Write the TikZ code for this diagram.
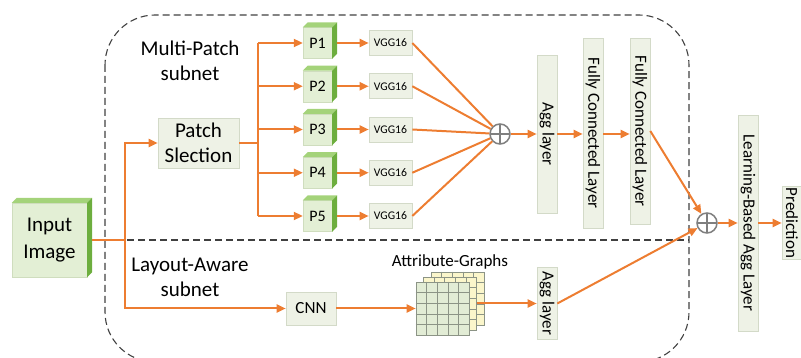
\documentclass[tikz,border=0pt]{standalone}
\usepackage{fontspec}
\setmainfont{Carlito}
\usetikzlibrary{arrows.meta,positioning,calc}
\definecolor{accentorange}{HTML}{ED7D31}
\definecolor{boxfill}{HTML}{EEF2E6}
\definecolor{boxline}{HTML}{D3DAC8}
\definecolor{cubefront}{HTML}{E3EFD5}
\definecolor{cubeedge}{HTML}{CFDDBE}
\definecolor{cubetop}{HTML}{A4D37A}
\definecolor{cubeside}{HTML}{6DAE3E}
\definecolor{sumgray}{HTML}{7F7F7F}
\definecolor{gridgreen}{HTML}{E2ECD5}
\definecolor{gridyellow}{HTML}{FBF6CB}
\definecolor{gridink}{HTML}{8C9486}
\definecolor{dashgray}{HTML}{404040}
\tikzset{
  every picture/.style={font=\fontsize{17}{20}\selectfont},
  flow/.style={draw=accentorange,line width=2pt},
  flowarrow/.style={flow,-{Triangle[length=9pt,width=8pt]}},
  layerbox/.style={draw=boxline,fill=boxfill,line width=0.6pt,inner sep=0pt},
  vbox/.style={layerbox,rotate=-90,minimum height=20pt},
  cubeface/.style={fill=cubefront,draw=cubeedge,line width=0.4pt,inner sep=0pt},
  sumnode/.style={circle,draw=sumgray,line width=1.5pt,fill=white,minimum size=20pt,inner sep=0pt,
    path picture={\draw[sumgray,line width=1.5pt] (path picture bounding box.north) -- (path picture bounding box.south)
      (path picture bounding box.west) -- (path picture bounding box.east);}},
  gridlayer/.style={draw=gridink,line width=0.6pt,minimum size=53pt,inner sep=0pt},
  gridstroke/.style={draw=gridink,line width=0.5pt},
  partition/.style={draw=dashgray,line width=1.1pt,dash pattern=on 7pt off 4pt},
  bigtext/.style={font=\fontsize{21}{25}\selectfont},
  ptext/.style={font=\fontsize{16}{19}\selectfont},
  smalltext/.style={font=\fontsize{11.7}{14}\selectfont},
}
\newcommand{\cubefaces}[2]{%
  \fill[cubetop] (#1.north west) -- ++(#2,-#2) -- ($(#1.north east)+(#2,-#2)$) -- (#1.north east) -- cycle;
  \fill[cubeside] (#1.north east) -- ++(#2,-#2) -- ($(#1.south east)+(#2,-#2)$) -- (#1.south east) -- cycle;}
\begin{document}
\begin{tikzpicture}[x=1pt,y=-1pt]
  \clip (0,0) rectangle (801,358);
  \draw[partition,rounded corners=50pt] (105,15) rectangle (689,362);
  \draw[partition] (105,240) -- (689,240);
  \node[bigtext,align=center] (mptitle) at (190,61) {Multi-Patch\\subnet};
  \node[bigtext,align=center] (latitle) at (190,277) {Layout-Aware\\subnet};
  \node[cubeface,font=\fontsize{21}{27}\selectfont,align=center,minimum width=75pt,minimum height=74pt] (input) at (49.5,240) {Input\\Image};
  \cubefaces{input}{5}
  \node[layerbox,bigtext,align=center,minimum width=81pt,minimum height=50pt] (patch) at (198.5,143) {Patch\\Slection};
  \foreach \i in {1,...,5} {
    \pgfmathsetmacro{\py}{43+43.25*(\i-1)}
    \node[cubeface,ptext,minimum width=29pt,minimum height=31pt] (p\i) at (317.5,\py) {P\i};
    \cubefaces{p\i}{5}
    \node[layerbox,smalltext,minimum width=43pt,minimum height=25pt] (vgg\i) at (390.5,\py) {VGG16};
  }
  \node[sumnode] (sum1) at (500,134) {};
  \node[vbox,minimum width=158pt] (agg1) at (547,134) {Agg layer};
  \node[vbox,minimum width=190pt] (fc1) at (593,133) {Fully Connected Layer};
  \node[vbox,minimum width=186pt] (fc2) at (640,131) {Fully Connected Layer};
  \node[layerbox,minimum width=50pt,minimum height=33pt] (cnn) at (311,308.5) {CNN};
  \foreach \layer/\dx/\dy/\col in {graphc/15/-10/gridyellow,graphb/7.5/-5/gridyellow,graph/0/0/gridgreen} {
    \node[gridlayer,fill=\col] (\layer) at (442.5+\dx,308.5+\dy) {};
    \foreach \k in {1,...,4} {
      \draw[gridstroke] ($(\layer.north west)!\k/5!(\layer.north east)$) -- ($(\layer.south west)!\k/5!(\layer.south east)$);
      \draw[gridstroke] ($(\layer.north west)!\k/5!(\layer.south west)$) -- ($(\layer.north east)!\k/5!(\layer.south east)$);
    }
  }
  \node (graphlabel) at (450,262) {Attribute-Graphs};
  \node[vbox,minimum width=72pt] (agg2) at (547,303.5) {Agg layer};
  \node[sumnode] (sum2) at (707,223) {};
  \node[vbox,minimum width=216pt] (lbagg) at (748,223) {Learning-Based Agg Layer};
  \node[vbox,minimum width=73pt] (pred) at (792,223) {Prediction};
  \coordinate (split) at (125,240);
  \coordinate (bustop) at (258,43);
  \coordinate (busbot) at (258,216);
  \draw[flow] ([xshift=5pt]input.east) -- (split);
  \draw[flowarrow] (split) |- (patch.west);
  \draw[flowarrow] (split) |- (cnn.west);
  \draw[flow] (patch.east) -- (patch.east -| bustop);
  \draw[flow] (bustop) -- (busbot);
  \foreach \i in {1,...,5} {
    \draw[flowarrow] (p\i.west -| bustop) -- (p\i.west);
    \draw[flowarrow] ([xshift=5pt]p\i.east) -- (vgg\i.west);
    \draw[flow] (vgg\i.east) -- (sum1);
  }
  \draw[flowarrow] (sum1) -- (agg1);
  \draw[flowarrow] (agg1) -- (agg1 -| fc1.south);
  \draw[flowarrow] (agg1 -| fc1.north) -- (agg1 -| fc2.south);
  \draw[flowarrow] (fc2.north) -- (sum2);
  \draw[flowarrow] (cnn) -- (graph);
  \draw[flowarrow] (graphb.east) -- (agg2);
  \draw[flowarrow] (agg2.north) -- (sum2);
  \draw[flowarrow] (sum2) -- (lbagg);
  \draw[flowarrow] (lbagg) -- (pred);
\end{tikzpicture}
\end{document}
